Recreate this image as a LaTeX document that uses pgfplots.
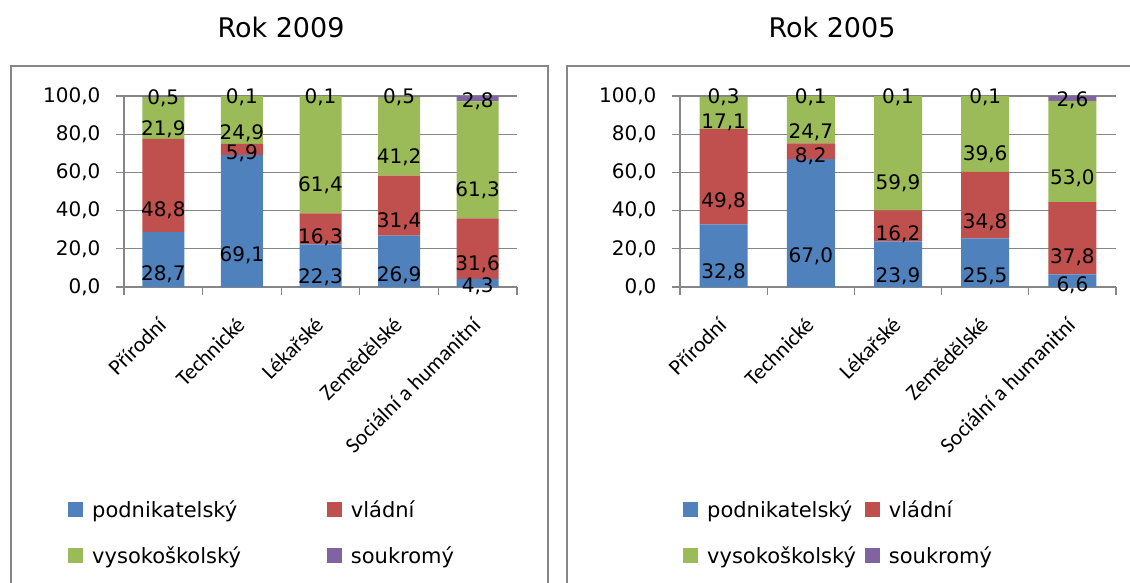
\documentclass[border=0pt]{standalone}
\usepackage{fontspec}
\setmainfont{DejaVu Sans}
\newfontfamily\carlito{Carlito}
\usepackage{pgfplots}
\usepackage{pgfplotstable}
\pgfplotsset{compat=1.18}
\definecolor{cblue}{HTML}{4F81BD}
\definecolor{cred}{HTML}{C0504D}
\definecolor{cgreen}{HTML}{9BBB59}
\definecolor{cpurple}{HTML}{8064A2}
\definecolor{cgray}{HTML}{868686}

\pgfplotstableread{
x a b c d
0 28.7 48.8 21.9 0.5
1 69.1 5.9 24.9 0.1
2 22.3 16.3 61.4 0.1
3 26.9 31.4 41.2 0.5
4 4.3 31.6 61.3 2.8
}\datanine
\pgfplotstableread{
x a b c d
0 32.8 49.8 17.1 0.3
1 67.0 8.2 24.7 0.1
2 23.9 16.2 59.9 0.1
3 25.5 34.8 39.6 0.1
4 6.6 37.8 53.0 2.6
}\datafive

\pgfplotsset{
 panel/.style={
  ybar stacked, scale only axis, height=191pt, anchor=south west,
  ymin=0, ymax=100, xmin=-0.5, xmax=4.5, clip=false,
  ytick={0,20,40,60,80,100},
  /pgf/number format/assume math mode=true,
  yticklabel={\pgfmathprintnumber[fixed,fixed zerofill,precision=1,use comma]{\tick}},
  yticklabel style={font=\fontsize{20}{24}\selectfont, xshift=-12pt},
  ymajorgrids, grid style={cgray, line width=1.2pt},
  axis x line*=bottom, axis y line*=left,
  axis line style={cgray, line width=1.2pt},
  tick align=outside, major tick length=8pt,
  tick style={cgray, line width=1.2pt},
  xtick={-0.5,0.5,1.5,2.5,3.5,4.5}, xticklabels={},
  extra x ticks={0,1,2,3,4},
  extra x tick labels={Přírodní,Technické,Lékařské,Zemědělské,Sociální a humanitní},
  extra x tick style={major tick length=0pt, grid=none,
     xticklabel style={font=\carlito\fontsize{22}{26}\selectfont, xshift=-1pt, yshift=-34pt, rotate=45, anchor=east, inner sep=0pt}},
  nodes near coords={\pgfmathprintnumber[fixed,fixed zerofill,precision=1,use comma]{\pgfplotspointmeta}},
  nodes near coords align=center,
  every node near coord/.append style={font=\fontsize{20}{24}\selectfont, text=black, anchor=center, inner sep=0pt, shift={(axis direction cs:0,-\rawy/4)}, yshift=-1pt},
  legend image code/.code={\fill[##1] (0pt,-7.5pt) rectangle (15pt,7.5pt);},
  legend columns=2,
  legend cell align=left,
  legend style={draw=none, fill=none, inner sep=0pt, font=\fontsize{21}{25}\selectfont, row sep=22pt,
     nodes={inner sep=3pt}, /tikz/every odd column/.append style={column sep=6pt}},
 }
}

\begin{document}
\begin{tikzpicture}
\useasboundingbox (0pt,0pt) rectangle (1130pt,582pt);
\fill[white] (0pt,0pt) rectangle (1130pt,582pt);
\draw[cgray, line width=1.2pt] (11pt,-20pt) rectangle (548pt,516pt);
\draw[cgray, line width=1.2pt] (567pt,-20pt) rectangle (1160pt,516pt);
\node[font=\fontsize{27}{32}\selectfont] at (281pt,555pt) {Rok 2009};
\node[font=\fontsize{27}{32}\selectfont] at (832pt,555pt) {Rok 2005};

\begin{axis}[panel, at={(124pt,295pt)}, width=393pt, bar width=42pt,
  legend style={at={(rel axis cs:-0.1425,-1.10)}, anchor=north west,
   /tikz/every even column/.append style={column sep=83pt}}]
\addplot[fill=cblue, draw=none, visualization depends on={\thisrow{a} \as \rawy}] table[x=x,y=a] {\datanine};
\addplot[fill=cred, draw=none, visualization depends on={\thisrow{b} \as \rawy}] table[x=x,y=b] {\datanine};
\addplot[fill=cgreen, draw=none, visualization depends on={\thisrow{c} \as \rawy}] table[x=x,y=c] {\datanine};
\addplot[fill=cpurple, draw=none, visualization depends on={\thisrow{d} \as \rawy}] table[x=x,y=d] {\datanine};
\legend{podnikatelský,vládní,vysokoškolský,soukromý}
\end{axis}

\begin{axis}[panel, at={(680pt,295pt)}, width=436pt, bar width=48pt,
  legend style={at={(rel axis cs:0.0068,-1.10)}, anchor=north west,
   /tikz/every even column/.append style={column sep=6pt}}]
\addplot[fill=cblue, draw=none, visualization depends on={\thisrow{a} \as \rawy}] table[x=x,y=a] {\datafive};
\addplot[fill=cred, draw=none, visualization depends on={\thisrow{b} \as \rawy}] table[x=x,y=b] {\datafive};
\addplot[fill=cgreen, draw=none, visualization depends on={\thisrow{c} \as \rawy}] table[x=x,y=c] {\datafive};
\addplot[fill=cpurple, draw=none, visualization depends on={\thisrow{d} \as \rawy}] table[x=x,y=d] {\datafive};
\legend{podnikatelský,vládní,vysokoškolský,soukromý}
\end{axis}
\end{tikzpicture}
\end{document}
